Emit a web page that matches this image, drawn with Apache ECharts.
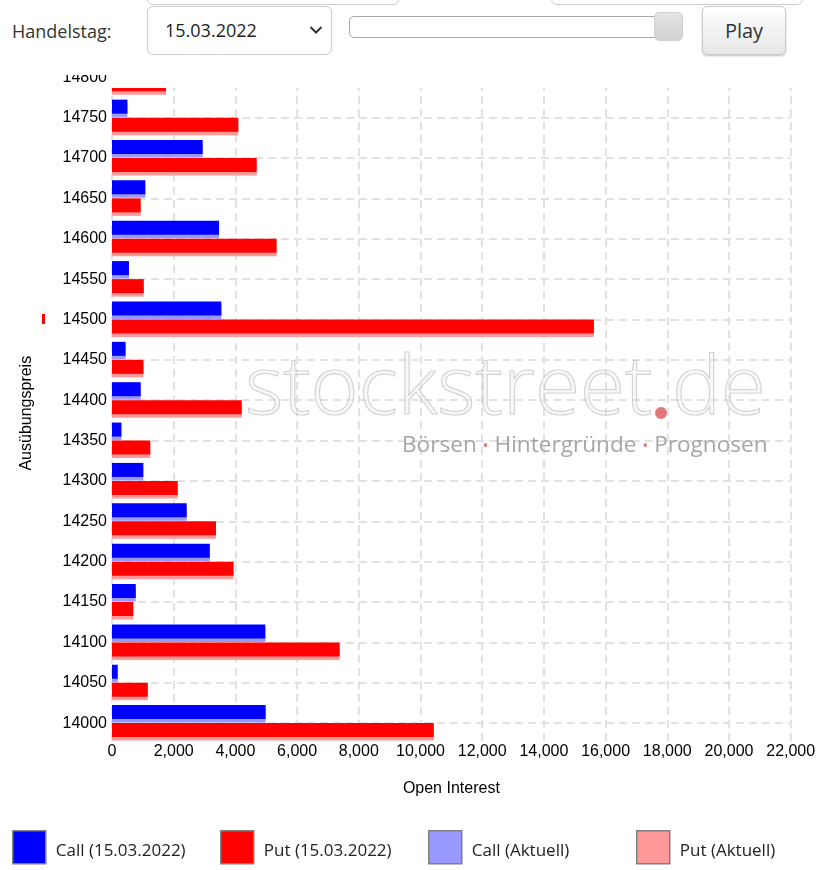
<!DOCTYPE html>
<html><head><meta charset="utf-8">
<script src="https://cdn.jsdelivr.net/npm/echarts@6/dist/echarts.min.js"></script>
<style>
html,body{margin:0;padding:0;background:#fff;width:822px;height:870px;overflow:hidden;font-family:'Open Sans',sans-serif;}
#chart{position:absolute;left:0;top:0;width:822px;height:870px;}
#hdr{position:absolute;left:0;top:0;width:822px;height:75px;background:#fff;z-index:5;overflow:hidden;}
#hdr2{position:absolute;left:108px;top:75px;width:714px;height:13px;background:#fff;z-index:5;}
.box{position:absolute;border:1px solid #ccc;border-radius:6px;background:#fff;box-sizing:border-box;}
#lbl{position:absolute;left:12px;top:17px;font-size:18px;color:#333;line-height:28px;}
#sel{position:absolute;left:147px;top:6px;width:185px;height:49px;border:1px solid #ccc;border-radius:6px;box-sizing:border-box;font-size:18px;color:#222;line-height:47px;padding-left:17px;}
#track{position:absolute;left:349px;top:16px;width:334px;height:22px;border:1px solid #aaa;border-radius:5px;box-sizing:border-box;background:#fff;}
#thumb{position:absolute;left:654px;top:12px;width:29px;height:29px;border:1px solid #d0d0d0;border-radius:5px;box-sizing:border-box;background:linear-gradient(#e4e4e4,#d2d2d2);}
#play{position:absolute;left:702px;top:6px;width:84px;height:49px;border:1px solid #ccc;border-radius:5px;box-sizing:border-box;background:linear-gradient(#ffffff,#e6e6e6);box-shadow:0 1px 2px rgba(0,0,0,0.25);font-size:20px;color:#333;text-align:center;line-height:47px;}
</style></head>
<body>
<div id="chart"></div>
<div id="hdr">
  <div class="box" style="left:147px;top:-40px;width:252px;height:45px"></div>
  <div class="box" style="left:551px;top:-40px;width:252px;height:45px"></div>
  <div id="lbl">Handelstag:</div>
  <div id="sel">15.03.2022</div>
  <svg style="position:absolute;left:309px;top:25px" width="14" height="10"><polyline points="1.5,2 7,7.5 12.5,2" fill="none" stroke="#333" stroke-width="2"/></svg>
  <div id="track"></div>
  <div id="thumb"></div>
  <div id="play">Play</div>
</div>
<div id="hdr2"></div>
<script>
// ---- data ----
const strikes = ['14000','14050','14100','14150','14200','14250','14300','14350','14400','14450','14500','14550','14600','14650','14700','14750','14800'];
const callOI = [4980, 185, 4970, 770, 3170, 2420, 1015, 305, 930, 440, 3545, 550, 3470, 1080, 2940, 500, 600];
const putOI  = [10430, 1160, 7380, 690, 3940, 3370, 2130, 1240, 4205, 1020, 15620, 1030, 5335, 930, 4690, 4095, 1750];
const callAktuell = [4980, 185, 4970, 770, 3170, 2420, 1015, 305, 930, 440, 3545, 550, 3470, 1080, 2940, 500, 600];
const putAktuell  = [10430, 1160, 7380, 690, 3940, 3370, 2130, 1240, 4205, 1020, 15620, 1030, 5335, 930, 4690, 4095, 1750];
const xMax = 22000, xStep = 2000;
const seriesNames = ['Call (15.03.2022)', 'Put (15.03.2022)', 'Call (Aktuell)', 'Put (Aktuell)'];
const markerStrike = '14500';
// ---- layout ----
const GL = 112, GR = 31.3, GT = 57.1, GH = 686.2;
const gridStyle = {color:'#e2e2e2', width:2, type:[8,5]};
const axisFont = 'Liberation Sans, Arial, sans-serif';
const legendFont = "'Open Sans',sans-serif";

const chart = echarts.init(document.getElementById('chart'), null, {renderer:'canvas'});
const hiddenX = i => ({gridIndex:i, type:'value', min:0, max:xMax, interval:xStep, show:false});
const hiddenY = i => ({gridIndex:i, type:'category', data:strikes, show:false});
const legendLefts = [12, 220, 428, 636];
const colors = ['#0000ff', '#ff0000', '#9999ff', '#ff9999'];

const option = {
  animation:false,
  grid:[
    {left:GL, right:GR, top:GT, height:GH},
    {left:GL, right:GR, top:GT-2, height:GH},
    {left:GL, right:GR, top:GT+1.5, height:GH}
  ],
  xAxis:[
    {gridIndex:0, type:'value', min:0, max:xMax, interval:xStep,
     axisLine:{show:false}, axisTick:{show:false},
     splitLine:{show:true, lineStyle:gridStyle},
     axisLabel:{fontFamily:axisFont, fontSize:16, color:'#000', margin:0,
       formatter:v=>v.toLocaleString('en-US')},
     name:'Open Interest', nameLocation:'middle', nameGap:37,
     nameTextStyle:{fontFamily:axisFont, fontSize:16, color:'#000'}},
    hiddenX(1), hiddenX(2)
  ],
  yAxis:[
    {gridIndex:0, type:'category', data:strikes,
     axisLine:{show:false}, axisTick:{show:false},
     splitLine:{show:true, alignWithLabel:true, interval:0, lineStyle:gridStyle},
     axisLabel:{fontFamily:axisFont, fontSize:16, color:'#000', margin:5, interval:0},
     name:'Ausübungspreis', nameLocation:'middle', nameGap:77,
     nameTextStyle:{fontFamily:axisFont, fontSize:16, color:'#000', padding:[0,26,0,0]}},
    hiddenY(1), hiddenY(2)
  ],
  legend: seriesNames.map((n,i)=>({
    data:[n], left:legendLefts[i], top:830, padding:0, icon:'rect', itemWidth:33, itemHeight:33,
    selectedMode:false, itemStyle:{borderColor:'#808080', borderWidth:1.5},
    formatter: name => '{t|' + name + '}',
    textStyle:{fontFamily:legendFont, fontSize:17, color:'#222', padding:[0,0,0,5],
      rich:{t:{fontFamily:legendFont, fontSize:17, color:'#222', padding:[8,0,0,0]}}}
  })),
  series:[
    {name:seriesNames[2], type:'bar', xAxisIndex:2, yAxisIndex:2, data:callAktuell, barWidth:14, barGap:'28.6%', itemStyle:{color:colors[2]}},
    {name:seriesNames[3], type:'bar', xAxisIndex:2, yAxisIndex:2, data:putAktuell, barWidth:14, barGap:'28.6%', itemStyle:{color:colors[3]}},
    {name:seriesNames[0], type:'bar', xAxisIndex:1, yAxisIndex:1, data:callOI, barWidth:14, barGap:'28.6%', itemStyle:{color:colors[0]}},
    {name:seriesNames[1], type:'bar', xAxisIndex:1, yAxisIndex:1, data:putOI, barWidth:14, barGap:'28.6%', itemStyle:{color:colors[1]}}
  ],
  graphic:[
    {id:'wm1', type:'text', z:1, silent:true,
     style:{x:245, y:391, text:'stockstreet.de', verticalAlign:'middle', align:'left',
       font:'300 82px "Open Sans", sans-serif', fill:'rgba(240,240,240,0.45)', stroke:'rgba(160,160,160,0.55)', lineWidth:1.2}},
    {id:'wm2', type:'text', z:1, silent:true,
     style:{x:402, y:446, verticalAlign:'middle', align:'left',
       text:'{a|Börsen }{r|•}{a| Hintergründe }{r|•}{a| Prognosen}',
       rich:{a:{font:'22.6px "Open Sans", sans-serif', fill:'#a6a6a6'}, r:{font:'16px "Open Sans", sans-serif', fill:'#e07a7a'}}}},
    {id:'wmdot', type:'circle', z:1, silent:true, shape:{cx:661, cy:413, r:6}, style:{fill:'#e07a7a'}}
  ]
};
chart.setOption(option);
const my = chart.convertToPixel({yAxisIndex:0}, markerStrike);
chart.setOption({graphic:[{id:'marker', type:'rect', z:10, shape:{x:42, y:my-5.5, width:3, height:10}, style:{fill:'#ff0000'}}]});
</script>
</body></html>
